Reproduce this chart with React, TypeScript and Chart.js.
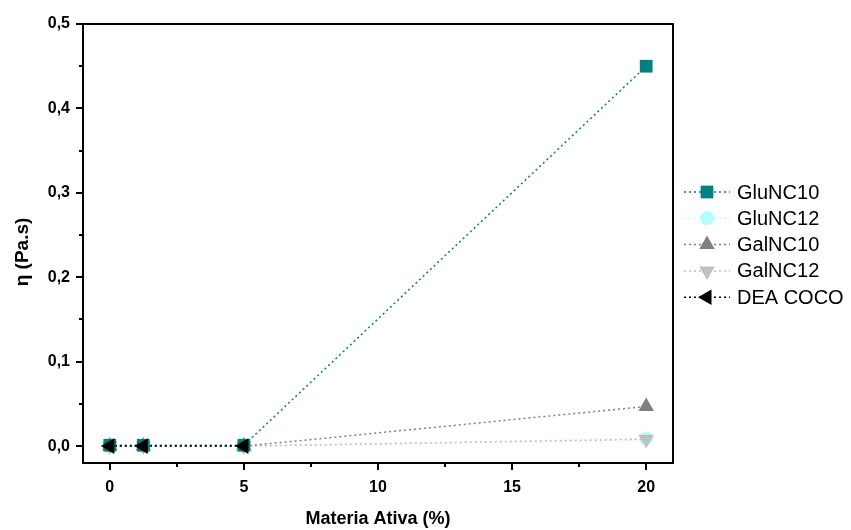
import React, { useEffect, useRef } from "react";
import { Chart, registerables } from "chart.js";

Chart.register(...registerables);

const xValues = [0, 1.25, 5, 20];
const xValuesDea = [0, 1.25, 5];
const gluNC10 = [0.001, 0.001, 0.001, 0.45];
const gluNC12 = [0, 0, 0, 0.009];
const galNC10 = [0, 0, 0, 0.047];
const galNC12 = [0, 0, 0, 0.008];
const deaCoco = [0, 0, 0];

const seriesNames = ["GluNC10", "GluNC12", "GalNC10", "GalNC12", "DEA COCO"];
const seriesColors = ["#008080", "#b3ffff", "#808080", "#c0c0c0", "#000000"];
const xTicks = [0, 5, 10, 15, 20];
const xMinorTicks = [2.5, 7.5, 12.5, 17.5];
const yTicks = [0, 0.1, 0.2, 0.3, 0.4, 0.5];
const yMinorTicks = [0.05, 0.15, 0.25, 0.35, 0.45];
const xTitle = "Materia Ativa (%)";
const yTitle = "η (Pa.s)";

const pointStyles: any[] = ["rect", "circle", "triangle", "triangle", "triangle"];
const pointRotations = [0, 0, 0, 180, -90];
const pointRadii = [9, 7, 9, 9, 9];

const FONT = "'Liberation Sans', Arial, sans-serif";

function toPts(xs: number[], ys: number[]) {
  return xs.map((x, i) => ({ x, y: ys[i] }));
}

function drawMarker(ctx: CanvasRenderingContext2D, style: string, x: number, y: number, r: number, rotDeg: number) {
  ctx.beginPath();
  if (style === "rect") {
    const s = Math.SQRT1_2 * r;
    ctx.rect(x - s, y - s, 2 * s, 2 * s);
  } else if (style === "circle") {
    ctx.arc(x, y, r, 0, Math.PI * 2);
  } else {
    let rad = (rotDeg * Math.PI) / 180;
    ctx.moveTo(x + Math.sin(rad) * r, y - Math.cos(rad) * r);
    rad += (2 * Math.PI) / 3;
    ctx.lineTo(x + Math.sin(rad) * r, y - Math.cos(rad) * r);
    rad += (2 * Math.PI) / 3;
    ctx.lineTo(x + Math.sin(rad) * r, y - Math.cos(rad) * r);
    ctx.closePath();
  }
  ctx.fill();
}

const frameAndLegend = {
  id: "frameAndLegend",
  afterDraw(chart: any) {
    const { ctx, chartArea, scales } = chart;
    const xs = scales.x;
    const ys = scales.y;
    ctx.save();
    ctx.strokeStyle = "#000";
    ctx.lineWidth = 2;
    ctx.beginPath();
    ctx.moveTo(chartArea.left, chartArea.top);
    ctx.lineTo(chartArea.right, chartArea.top);
    ctx.lineTo(chartArea.right, chartArea.bottom);
    ctx.stroke();
    ctx.beginPath();
    xMinorTicks.forEach((v) => {
      const px = Math.round(xs.getPixelForValue(v));
      ctx.moveTo(px, chartArea.bottom);
      ctx.lineTo(px, chartArea.bottom + 4);
    });
    yMinorTicks.forEach((v) => {
      const py = Math.round(ys.getPixelForValue(v));
      ctx.moveTo(chartArea.left, py);
      ctx.lineTo(chartArea.left - 4, py);
    });
    ctx.stroke();

    // y title
    ctx.save();
    ctx.translate(23, 252);
    ctx.rotate(-Math.PI / 2);
    ctx.font = "bold 19px " + FONT;
    ctx.fillStyle = "#000";
    ctx.textAlign = "center";
    ctx.textBaseline = "middle";
    ctx.fillText(yTitle, 0, 0);
    ctx.restore();

    // legend
    const lx0 = 684;
    const lx1 = 730;
    const mx = 707;
    const tx = 737;
    const y0 = 192;
    const step = 26.3;
    ctx.font = "20px " + FONT;
    ctx.textBaseline = "middle";
    ctx.textAlign = "left";
    seriesNames.forEach((name, i) => {
      const y = y0 + i * step;
      ctx.save();
      ctx.strokeStyle = seriesColors[i];
      ctx.lineWidth = 1.5;
      ctx.setLineDash([2, 3]);
      ctx.beginPath();
      ctx.moveTo(lx0, y);
      ctx.lineTo(lx1, y);
      ctx.stroke();
      ctx.restore();
      ctx.fillStyle = seriesColors[i];
      drawMarker(ctx, pointStyles[i], mx, y, pointRadii[i], pointRotations[i]);
      ctx.fillStyle = "#000";
      ctx.fillText(name, tx, y + 1);
    });
    ctx.restore();
  },
};

export default function App() {
  const ref = useRef<HTMLCanvasElement | null>(null);
  useEffect(() => {
    if (!ref.current) return;
    const allData = [
      toPts(xValues, gluNC10),
      toPts(xValues, gluNC12),
      toPts(xValues, galNC10),
      toPts(xValues, galNC12),
      toPts(xValuesDea, deaCoco),
    ];
    const orders = [1, 4, 2, 3, 0];
    const datasets = seriesNames.map((name, i) => ({
      label: name,
      data: allData[i],
      borderColor: seriesColors[i],
      backgroundColor: seriesColors[i],
      pointBackgroundColor: seriesColors[i],
      pointBorderColor: seriesColors[i],
      pointBorderWidth: 0,
      borderWidth: 1.5,
      borderDash: [2, 3],
      pointStyle: pointStyles[i],
      pointRotation: pointRotations[i],
      pointRadius: pointRadii[i],
      showLine: true,
      fill: false,
      tension: 0,
      order: orders[i],
    }));
    const tickFont = { family: FONT, size: 16, weight: "bold" as const };
    const titleFont = { family: FONT, size: 18, weight: "bold" as const };
    const chart = new Chart(ref.current, {
      type: "scatter",
      data: { datasets: datasets as any },
      plugins: [frameAndLegend],
      options: {
        animation: false,
        responsive: false,
        layout: { padding: { left: 0, top: 24, right: 178, bottom: 0 } },
        plugins: { legend: { display: false }, tooltip: { enabled: false } },
        scales: {
          x: {
            type: "linear",
            min: -1,
            max: 21,
            afterBuildTicks: (s: any) => {
              s.ticks = xTicks.map((v) => ({ value: v }));
            },
            afterFit: (s: any) => {
              s.height = 67;
            },
            ticks: {
              font: tickFont,
              color: "#000",
              padding: 8,
              callback: (v: any) => String(v),
              maxRotation: 0,
            },
            grid: { drawOnChartArea: false, drawTicks: true, tickLength: 7, color: "#000", lineWidth: 2 },
            border: { display: true, color: "#000", width: 2 },
            title: { display: true, text: xTitle, font: titleFont, color: "#000", padding: { top: 0, bottom: 0 } },
          },
          y: {
            type: "linear",
            min: -0.02,
            max: 0.5,
            afterBuildTicks: (s: any) => {
              s.ticks = yTicks.map((v) => ({ value: v }));
            },
            afterFit: (s: any) => {
              s.width = 83;
            },
            ticks: {
              font: tickFont,
              color: "#000",
              padding: 6,
              callback: (v: any) => Number(v).toFixed(1).replace(".", ","),
            },
            grid: { drawOnChartArea: false, drawTicks: true, tickLength: 7, color: "#000", lineWidth: 2 },
            border: { display: true, color: "#000", width: 2 },
            title: { display: false },
          },
        },
      },
    });
    return () => chart.destroy();
  }, []);
  return (
    <div style={{ position: "absolute", left: 0, top: 0, width: 851, height: 530, background: "#fff" }}>
      <canvas ref={ref} width={851} height={530} style={{ width: 851, height: 530, display: "block" }} />
    </div>
  );
}
